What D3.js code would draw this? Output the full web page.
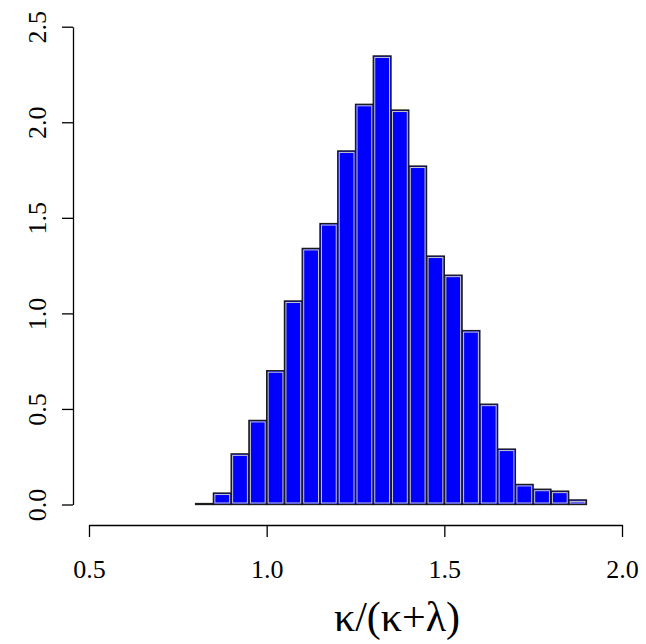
<!DOCTYPE html>
<html>
<head>
<meta charset="utf-8">
<script src="https://cdn.jsdelivr.net/npm/d3@7"></script>
<style>
  html, body { margin: 0; padding: 0; background: #fff; }
  svg { display: block; }
  .tick text { font-family: "Liberation Serif", "Times New Roman", serif; font-size: 26px; fill: #000; }
</style>
</head>
<body>
<div id="chart"></div>
<script>
// histogram breaks (bin edges) and density heights
const breaks = [0.80, 0.85, 0.90, 0.95, 1.00, 1.05, 1.10, 1.15, 1.20, 1.25, 1.30,
                1.35, 1.40, 1.45, 1.50, 1.55, 1.60, 1.65, 1.70, 1.75, 1.80, 1.85, 1.90];
const density = [0.005, 0.06, 0.265, 0.44, 0.70, 1.065, 1.34, 1.47, 1.85, 2.094, 2.347,
                 2.064, 1.771, 1.30, 1.20, 0.91, 0.525, 0.29, 0.105, 0.08, 0.07, 0.024];
const xTicks = [0.5, 1.0, 1.5, 2.0];
const yTicks = [0.0, 0.5, 1.0, 1.5, 2.0, 2.5];
const xLabel = "κ/(κ+λ)";

const width = 646, height = 644;

const svg = d3.select("#chart").append("svg")
    .attr("width", width)
    .attr("height", height);

const x = d3.scaleLinear().domain([0.5, 2.0]).range([89, 622]);
const y = d3.scaleLinear().domain([0, 2.5]).range([504.5, 26.7]);

const bins = density.map((d, i) => ({x0: breaks[i], x1: breaks[i + 1], v: d}));

// bars: blue fill, dark outline with a light inner rim
const bars = svg.append("g").attr("class", "bars");
bars.selectAll(".bar")
    .data(bins)
    .enter()
    .append("rect")
    .attr("class", "bar")
    .attr("x", d => x(d.x0))
    .attr("y", d => y(d.v))
    .attr("width", d => x(d.x1) - x(d.x0))
    .attr("height", d => y(0) - y(d.v))
    .attr("fill", "#0000ff")
    .attr("stroke", "#1a1a1a")
    .attr("stroke-width", 1.3);

bars.selectAll(".rim")
    .data(bins.filter(d => y(0) - y(d.v) > 4))
    .enter()
    .append("rect")
    .attr("class", "rim")
    .attr("x", d => x(d.x0) + 1.5)
    .attr("y", d => y(d.v) + 1.5)
    .attr("width", d => x(d.x1) - x(d.x0) - 3)
    .attr("height", d => y(0) - y(d.v) - 3)
    .attr("fill", "none")
    .attr("stroke", "#c8c8c8")
    .attr("stroke-width", 1);

// x axis
const gx = svg.append("g")
    .attr("transform", "translate(0,525)")
    .call(d3.axisBottom(x)
        .tickValues(xTicks)
        .tickFormat(d3.format(".1f"))
        .tickSize(12)
        .tickSizeOuter(0));
gx.selectAll("path, line").attr("stroke", "#000").attr("stroke-width", 1.3);
gx.selectAll(".tick text")
    .attr("y", 53)
    .attr("dy", 0);

// y axis
const gy = svg.append("g")
    .attr("transform", "translate(73,0)")
    .call(d3.axisLeft(y)
        .tickValues(yTicks)
        .tickFormat(d3.format(".1f"))
        .tickSize(11)
        .tickSizeOuter(0));
gy.selectAll("path, line").attr("stroke", "#000").attr("stroke-width", 1.3);
gy.selectAll(".tick text")
    .attr("x", 0)
    .attr("y", 0)
    .attr("dy", 0)
    .attr("text-anchor", "middle")
    .attr("transform", "translate(-27,0) rotate(-90)");

// axis title
svg.append("text")
    .attr("x", 397)
    .attr("y", 631)
    .attr("text-anchor", "middle")
    .attr("font-family", "Liberation Serif, Times New Roman, serif")
    .attr("font-size", 42)
    .text(xLabel);
</script>
</body>
</html>
